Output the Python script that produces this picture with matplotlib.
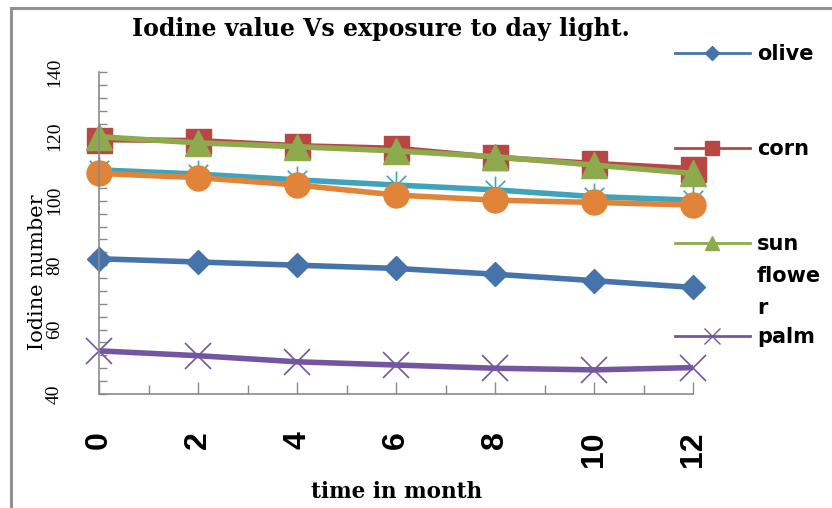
import numpy as np
import matplotlib
matplotlib.use("Agg")
import matplotlib.pyplot as plt
from matplotlib.lines import Line2D
from matplotlib.path import Path

# data
months = [0, 2, 4, 6, 8, 10, 12]
olive = [82, 81, 80, 79, 77.2, 75.2, 73.1]
corn = [119, 118.7, 117.1, 116.3, 113.5, 111.6, 110.0]
sunflower = [119.9, 118.0, 116.8, 115.5, 113.7, 111.1, 108.5]
palm = [53.4, 51.9, 50.0, 49.0, 48.0, 47.5, 48.2]
series5 = [109.6, 108.3, 106.5, 104.9, 103.4, 101.3, 100.2]
series6 = [108.5, 107.2, 104.9, 101.8, 100.2, 99.5, 98.7]

legend_labels = ["olive", "corn", "sun\nflowe\nr", "palm"]

# marker shape like the excel "star": vertical bar plus an X
star = Path([(0, -1), (0, 1), (-0.7, -0.7), (0.7, 0.7), (-0.7, 0.7), (0.7, -0.7)],
            [Path.MOVETO, Path.LINETO, Path.MOVETO, Path.LINETO, Path.MOVETO, Path.LINETO])

styles = [
    (olive, "#4673AA", "D", 12, 7),
    (corn, "#B84744", "s", 18, 10),
    (sunflower, "#8DAA4C", "^", 19, 10),
    (palm, "#7456A0", "x", 19, 11),
    (series5, "#3FA3BC", star, 20, 0),
    (series6, "#E0843A", "o", 18, 0),
]

fig = plt.figure(figsize=(8.32, 5.08), dpi=100)
ax = fig.add_axes([99/832, 1-394/508, (693-99)/832, (394-72)/508])

for vals, col, mk, ms, _ in styles:
    thin = mk in ("x",) or mk is star
    ax.plot(months, vals, color=col, lw=4, marker=mk, ms=ms,
            mfc=col, mec=col, mew=1.2 if thin else 1, clip_on=False,
            solid_capstyle="butt")

ax.set_xlim(0, 12)
ax.set_ylim(40, 140)
ax.set_xticks(months)
ax.set_xticks(np.arange(1, 12, 2), minor=True)
ax.set_yticks(np.arange(40, 141, 20))
ax.set_yticks(np.arange(40, 141, 4), minor=True)

gray = "#8a8a8a"
for s in ["top", "right"]:
    ax.spines[s].set_visible(False)
for s in ["left", "bottom"]:
    ax.spines[s].set_color(gray)
    ax.spines[s].set_linewidth(1.2)

ax.tick_params(axis="x", which="major", direction="in", length=8.5, width=1, color=gray, pad=27)
ax.tick_params(axis="x", which="minor", direction="in", length=6.5, width=1, color=gray)
ax.tick_params(axis="y", which="both", direction="in", length=5.5, width=1, color=gray, pad=26)

for lab in ax.get_xticklabels():
    lab.set_rotation(90)
    lab.set_fontfamily("Liberation Sans")
    lab.set_fontweight("bold")
    lab.set_fontsize(23)
for lab in ax.get_yticklabels():
    lab.set_rotation(90)
    lab.set_va("center")
    lab.set_fontfamily("Liberation Serif")
    lab.set_fontsize(14)

fig.text(381/832, 1-29/508, "Iodine value Vs exposure to day light.", ha="center", va="center",
         family="DejaVu Serif", weight="bold", fontsize=17)
fig.text(397/832, 1-492/508, "time in month", ha="center", va="center",
         family="DejaVu Serif", weight="bold", fontsize=15.5)
fig.text(38/832, 1-272/508, "Iodine number", ha="center", va="center", rotation=90,
         family="DejaVu Serif", fontsize=15)

# legend (only four entries are visible in the cropped original)
leg_y = [53, 148, 243, 336]
for (vals, col, mk, ms, lms), lab, yy in zip(styles[:4], legend_labels, leg_y):
    yf = 1 - yy/508
    fig.add_artist(Line2D([675/832, 750/832], [yf, yf], color=col, lw=2))
    fig.add_artist(Line2D([712/832], [yf], color=col, marker=mk, ms=lms, mfc=col, mec=col, mew=1))
    fig.text(757/832, 1 - (yy - 9)/508, lab, ha="left", va="top", family="DejaVu Sans",
             weight="bold", fontsize=15, linespacing=1.75)

# grey frame on left and top edge
fig.add_artist(Line2D([11/832, 11/832], [0, 1-8/508], color="#909090", lw=2.2))
fig.add_artist(Line2D([11/832, 1], [1-8/508, 1-8/508], color="#909090", lw=2.2))

fig.savefig("out.png", dpi=100)
